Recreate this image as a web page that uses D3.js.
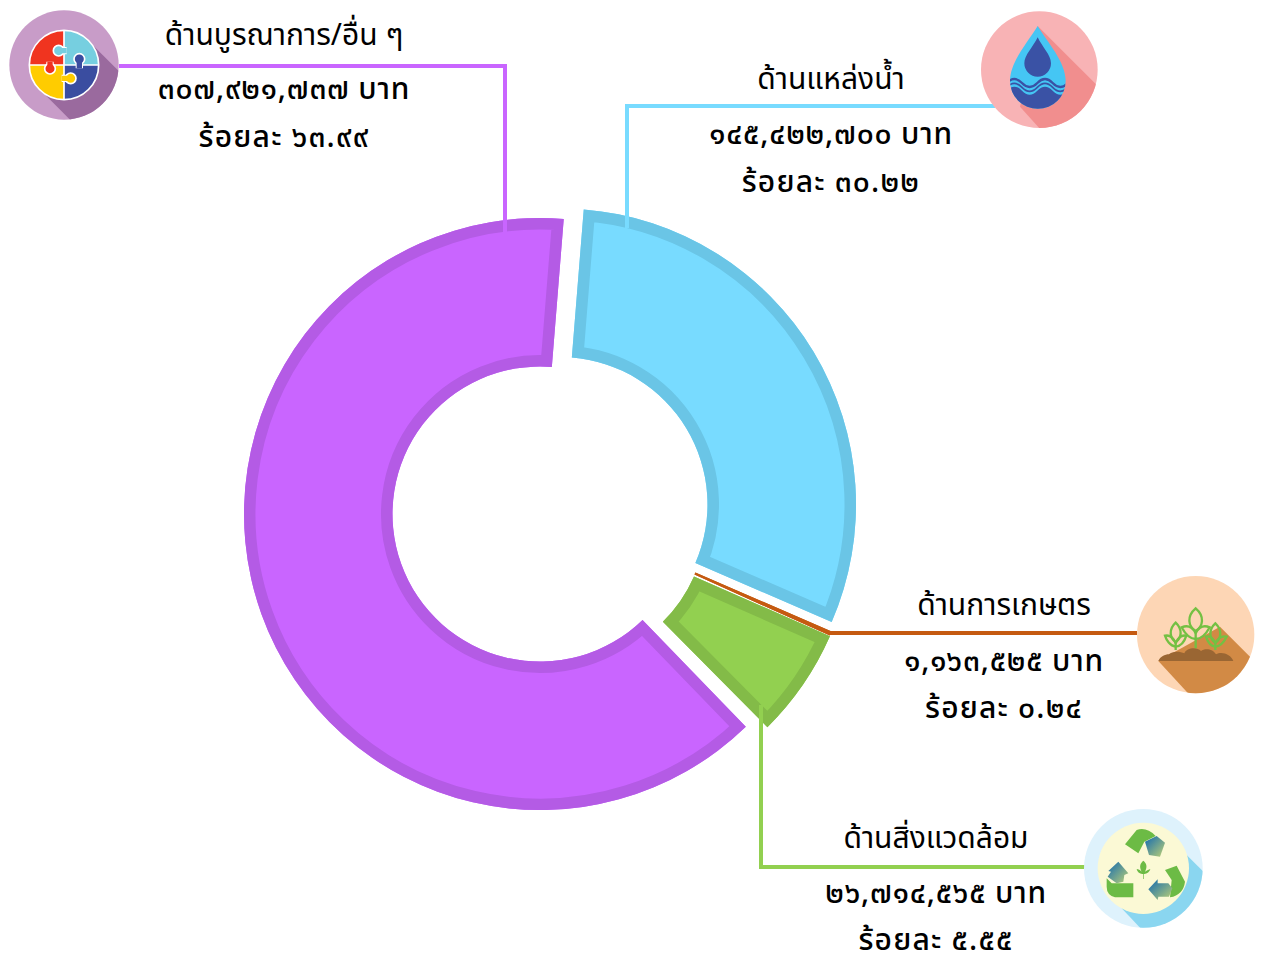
<!DOCTYPE html>
<html lang="th"><head><meta charset="utf-8">
<style>html,body{margin:0;padding:0;background:#fff}svg{display:block}
text{font-family:"Noto Sans Thai","Noto Sans","DejaVu Sans",sans-serif;fill:#000;text-anchor:middle}</style>
<script src="https://cdn.jsdelivr.net/npm/d3@7/dist/d3.min.js"></script></head>
<body><script>
const categories = ["ด้านแหล่งน้ำ","ด้านการเกษตร","ด้านสิ่งแวดล้อม","ด้านบูรณาการ/อื่น ๆ"];
const amounts = [145422700,1163525,26714565,307921737];
const percents = ["๓๐.๒๒","๐.๒๔","๕.๕๕","๖๓.๙๙"];
const fills = ["#78DBFF","#C55A11","#92D050","#C965FF"];
const strokes = ["#6AC5E6","#C55A11","#83BB48","#B45BE5"];
const unit = "บาท", pctWord = "ร้อยละ";

const W=1261,H=954;
const svg=d3.select("body").append("svg").attr("width",W).attr("height",H);
const defs=svg.append("defs");
const thai=s=>s.replace(/\d/g,d=>"๐๑๒๓๔๕๖๗๘๙"[+d]);
const money=d3.format(",");
const rad=Math.PI/180;

// layout of each slice: explosion centre and angular nudge (degrees)
const centers=[[560,504.5],[560,514],[559,517],[540,514]];
const nudges=[[0,0],[0,0],[-0.5,1],[1.7,0]];
const leaders=[
 [[995,106],[627,106],[627,228]],
 [[1137,633],[830,633]],
 [[1085,867],[761,867],[761,705]],
 [[119,66],[505,66],[505,232]]];
const labelPos=[[831,89,144,192],[1004,615,671,718],[936,848,903,950],[284,45,99,147]];

const pie=d3.pie().sort(null).startAngle(4.6*rad).endAngle((360+4.6)*rad);
const arcs=pie(amounts);
const arc=d3.arc().innerRadius(147.5).outerRadius(296);
arcs.forEach((a,i)=>{
  const d=arc({startAngle:a.startAngle+nudges[i][0]*rad,endAngle:a.endAngle+nudges[i][1]*rad});
  defs.append("clipPath").attr("id","sl"+i).append("path").attr("d",d);
  const g=svg.append("g").attr("transform",`translate(${centers[i]})`);
  g.append("path").attr("d",d).attr("fill",fills[i]);
  g.append("path").attr("d",d).attr("fill","none").attr("stroke",strokes[i]).attr("stroke-width",23)
   .attr("clip-path",`url(#sl${i})`);
});
const line=d3.line();
leaders.forEach((p,i)=>svg.append("path").attr("d",line(p)).attr("fill","none")
  .attr("stroke",fills[i]).attr("stroke-width",4));

categories.forEach((c,i)=>{
  const [x,a,b,e]=labelPos[i];
  svg.append("text").attr("x",x).attr("y",a).attr("font-size",30).text(c);
  svg.append("text").attr("x",x).attr("y",b).attr("font-size",30).attr("font-weight",500).attr("letter-spacing",0.8)
    .text(thai(money(amounts[i]))+" "+unit);
  svg.append("text").attr("x",x).attr("y",e).attr("font-size",30).attr("font-weight",500).attr("letter-spacing",1.2)
    .text(pctWord+" "+percents[i]);
});

// ---------- icons (decorative), drawn in 3x local units
function icon(id,x0,y0,cx,cy,r,col,shadow,shadowPts){
  const g=svg.append("g").attr("transform",`translate(${x0},${y0}) scale(${1/3})`);
  defs.append("clipPath").attr("id",id).append("circle").attr("cx",cx).attr("cy",cy).attr("r",r);
  g.append("circle").attr("cx",cx).attr("cy",cy).attr("r",r).attr("fill",col);
  g.append("polygon").attr("points",shadowPts).attr("fill",shadow).attr("clip-path",`url(#${id})`);
  return g;
}
// puzzle
{
 const g=icon("ic0",0,0,192,195,164,"#C89CC8","#9A6A9E","265,122 440,297 294,443 119,268");
 const cx=192,cy=195,r=104;
 defs.append("clipPath").attr("id","pz").append("circle").attr("cx",cx).attr("cy",cy).attr("r",r);
 const p=g.append("g").attr("clip-path","url(#pz)");
 [["#F0341F",cx-r,cy-r],["#76CFE0",cx,cy-r],["#FFCC00",cx-r,cy],["#3A4DA0",cx,cy]].forEach(q=>
   p.append("rect").attr("x",q[1]).attr("y",q[2]).attr("width",r).attr("height",r).attr("fill",q[0]));
 p.append("path").attr("d",`M${cx-r},${cy}H${cx+r}M${cx},${cy-r}V${cy+r}`).attr("stroke","#fff").attr("stroke-width",5);
 [["#76CFE0",176,152,200,152],["#F0341F",150,206,150,185],["#FFCC00",212,235,185,235],["#3A4DA0",238,177,238,205]].forEach(t=>{
   p.append("path").attr("d",`M${t[3]},${t[4]}L${t[1]},${t[2]}`).attr("stroke","#fff").attr("stroke-width",22);
   p.append("circle").attr("cx",t[1]).attr("cy",t[2]).attr("r",16).attr("fill",t[0]).attr("stroke","#fff").attr("stroke-width",5);
   p.append("path").attr("d",`M${t[3]},${t[4]}L${t[1]},${t[2]}`).attr("stroke",t[0]).attr("stroke-width",16);
 });
 g.append("circle").attr("cx",cx).attr("cy",cy).attr("r",r).attr("fill","none").attr("stroke","#fff").attr("stroke-width",5);
}
// water drop
{
 const g=icon("ic1",970,0,208,209,175,"#F8B3B5","#F18E8E","203,78 420,295 240,420 150,320");
 const drop="M203,78C175,125 120,185 120,243A83.500,83.500 0 0 0 287,243C287,185 231,125 203,78Z";
 defs.append("clipPath").attr("id","dr").append("path").attr("d",drop);
 g.append("path").attr("d",drop).attr("fill","#45C6F4");
 g.append("path").attr("d","M203,112C190,140 163,165 163,190A40,40 0 0 0 243,190C243,165 216,140 203,112Z").attr("fill","#3A52A5");
 const c=g.append("g").attr("clip-path","url(#dr)");
 const w=y=>`M110,${y}q23,-24 46,0t46,0t46,0t46,0`;
 c.append("path").attr("d",w(272)+"V340H110Z").attr("fill","#3A52A5");
 c.append("path").attr("d",w(249)).attr("fill","none").attr("stroke","#3A52A5").attr("stroke-width",7);
 c.append("path").attr("d",w(262)).attr("fill","none").attr("stroke","#3A52A5").attr("stroke-width",5);
}
// plants
{
 const g=icon("ic2",1125,565,212,209,176,"#FDD6B5","#D28A45","285,185 420,320 240,440 100,288");
 const leaf=(cx,top,h,w)=>`M${cx},${top}C${cx+w},${top+h*.35} ${cx+w*.8},${top+h*.8} ${cx},${top+h}C${cx-w*.8},${top+h*.8} ${cx-w},${top+h*.35} ${cx},${top}Z`;
 const pl=g.append("g").attr("fill","none").attr("stroke","#74C043").attr("stroke-width",7);
 pl.append("path").attr("d",leaf(212,130,68,28));
 pl.append("path").attr("d","M212,198V250");
 pl.append("path").attr("d","M212,222C188,222 176,198 170,187C195,176 208,195 212,205");
 pl.append("path").attr("d","M212,222C236,222 248,198 254,187C229,176 216,195 212,205");
 pl.append("path").attr("d",leaf(152,173,58,22));
 pl.append("path").attr("d","M152,228V255");
 pl.append("path").attr("d","M152,245C135,243 124,225 120,212C140,208 148,225 152,235");
 pl.append("path").attr("d","M152,245C170,243 180,225 184,212C165,208 156,225 152,235");
 pl.append("path").attr("d",leaf(271,175,58,22));
 pl.append("path").attr("d","M271,230V255");
 pl.append("path").attr("d","M271,245C254,243 246,225 243,215C260,210 267,225 271,235");
 pl.append("path").attr("d","M271,245C290,243 300,225 305,215C285,210 276,225 271,235");
 g.append("path").attr("fill","#9A6633").attr("d",
  "M100,288C105,275 120,268 132,268C140,258 165,258 178,265C185,248 215,245 228,258C240,248 265,252 273,268C290,258 318,268 325,288Z");
}
// recycle
{
 const g=icon("ic3",1075,800,205,205,178,"#DEF2FC","#8AD6F0","335,165 430,260 230,420 140,325");
 g.append("circle").attr("cx",205).attr("cy",205).attr("r",137).attr("fill","#FBF9D5");
 const gr=defs.append("linearGradient").attr("id","ag").attr("x1","0").attr("y1","0").attr("x2","1").attr("y2","1");
 gr.append("stop").attr("offset","0.15").attr("stop-color","#2A78A8");
 gr.append("stop").attr("offset","0.95").attr("stop-color","#B4CC78");
 const bands=["M150,133L185,90Q215,80 242,108L208,125L190,160Z",
   "M270,210L305,197L330,245Q325,285 285,292L290,240Z",
   "M95,235L110,250H175V292H120Q95,285 95,260Z"];
 bands.forEach(d=>g.append("path").attr("d",d).attr("fill","#6CBB45"));
 const heads=["M210,125L245,108L270,128L255,170L222,165Z",
   "M220,268L248,238V250H280L292,265L282,290H250L248,300Z",
   "M130,185L160,220L148,225L145,245L125,250L98,230L108,215L100,213Z"];
 heads.forEach(d=>g.append("path").attr("d",d).attr("fill","url(#ag)"));
 g.append("path").attr("fill","#6CBB45").attr("d","M205,182C215,190 218,200 210,215C218,210 225,208 226,207C222,220 212,222 206,222V237H204V222C198,222 188,220 185,207C190,208 195,210 200,215C192,200 195,190 205,182Z");
}
</script></body></html>
